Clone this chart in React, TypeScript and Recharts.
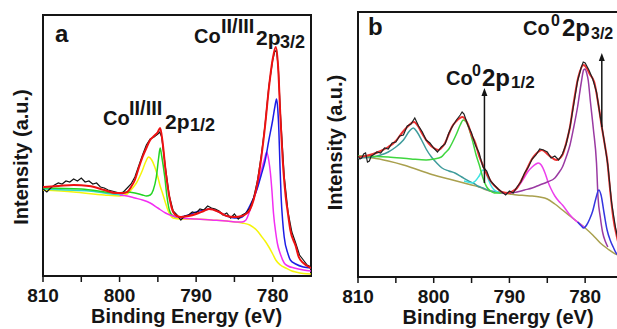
import { ComposedChart, Line, XAxis, YAxis, ReferenceArea, ReferenceLine, Label } from "recharts";

type Pt = [number, number];

// binding energy (eV) vs intensity (a.u.)
const X_TICKS = [775, 780, 785, 790, 795, 800, 805, 810];
const TICK_LABELS = [810, 800, 790, 780];

// ---- panel a : Co(II/III) ----
const RAW_A: Pt[] = [
  [810, 87], [809.5, 84], [809, 88], [808.5, 91], [808, 93], [807.5, 92], [807, 95], [806.5, 94], [806, 97],
  [805.5, 95], [805, 98], [804.5, 94], [804, 95], [803.5, 92], [803, 93], [802.5, 89], [802, 88], [801.5, 86],
  [801, 85], [800.5, 84], [800, 83], [799.5, 84], [799, 88], [798.5, 92], [798, 99], [797.5, 110], [797, 121],
  [796.5, 131], [796, 137], [795.5, 139], [795, 142], [794.75, 144], [794.5, 139], [794, 108], [793.5, 80],
  [793, 65], [792.5, 61], [792, 56], [791.5, 60], [791, 61], [790.5, 64], [790, 63], [789.5, 67], [789, 66],
  [788.5, 70], [788, 68], [787.5, 67], [787, 65], [786.5, 61], [786, 63], [785.5, 58], [785, 62], [784.5, 57],
  [784, 61], [783.5, 63], [783, 68], [782.5, 78], [782, 95], [781.5, 120], [781, 151], [780.5, 190], [780, 216],
  [779.75, 224], [779.5, 226], [779.25, 205], [779, 163], [778.5, 100], [778, 64], [777.5, 44], [777, 33],
  [776.5, 21], [776, 16], [775.5, 11], [775, 9],
];
const ENVELOPE_A: Pt[] = [
  [810, 89], [808, 90], [806, 91], [804, 90], [802, 86], [800.5, 83], [799.5, 83], [799, 84], [798.5, 89],
  [798, 96], [797.5, 108], [797, 119], [796.5, 128], [796, 136], [795.5, 140], [795, 144], [794.7, 148],
  [794.4, 135], [794, 106], [793.5, 79], [793, 64], [792.5, 60], [792, 59], [791, 60], [790, 62], [789, 65],
  [788.3, 67], [787, 64], [786, 60], [785, 59], [784, 60], [783.5, 62], [783, 66], [782.5, 76], [782, 93],
  [781.5, 118], [781, 150], [780.5, 188], [780, 217], [779.6, 229], [779.3, 210], [779, 160], [778.6, 105],
  [778.3, 79], [778, 62], [777.7, 46], [777, 30], [776.6, 19], [776, 13], [775, 8],
];
const YELLOW_A: Pt[] = [
  [810, 86], [806, 84], [802, 81], [800, 80], [799, 82], [798.3, 88], [797.8, 93], [797.4, 99], [797, 106],
  [796.6, 114], [796.2, 119], [795.8, 116], [795.4, 109], [795, 99], [794.7, 90], [794.4, 83], [794, 73],
  [793.7, 66], [793.3, 60], [793, 58], [792, 57], [790, 57], [788, 56], [786, 55], [784, 53], [783, 51],
  [782, 45], [781.5, 40], [781, 35], [780.5, 29], [780, 22], [779.6, 16], [779, 11], [778.3, 8], [777.5, 5],
  [777, 4], [776, 2.5], [775, 2],
];
const GREEN_A: Pt[] = [
  [810, 88], [805, 87], [800, 83], [799, 84], [798, 83], [797, 81], [796.5, 80], [796, 81], [795.6, 86],
  [795.2, 99], [794.9, 118], [794.7, 128], [794.5, 120], [794.1, 99], [793.8, 79], [793.5, 66], [793, 60],
  [792.5, 59],
];
const CYAN_A: Pt[] = [[810, 87], [807, 86], [804, 85], [801, 82], [799.5, 81]];
const MAGENTA_A: Pt[] = [
  [800, 81], [799, 80], [798, 78], [797, 76], [796, 73], [795, 68], [794, 63], [793, 60], [792, 58], [790, 57],
  [788, 56], [786, 55], [784.5, 54], [784, 54], [783.5, 56], [783, 65], [782.5, 77], [782, 89], [781.5, 105],
  [781, 119], [780.8, 124], [780.5, 115], [780.3, 103], [780.1, 85], [779.9, 63], [779.6, 43], [779.4, 33],
  [779, 22], [778.5, 13], [778, 10], [777.2, 8], [776, 6], [775, 5],
];
const BLUE_A: Pt[] = [
  [792, 59], [791, 61], [790, 64], [789, 66], [788, 67], [787, 64], [786, 60], [785, 58], [784.5, 58], [784, 59],
  [783.5, 63], [783, 70], [782.5, 78], [782, 88], [781.5, 101], [781, 115], [780.5, 136], [780, 156],
  [779.7, 170], [779.5, 177], [779.35, 168], [779.2, 146], [779.05, 110], [778.9, 79], [778.7, 55], [778.5, 39],
  [778, 22], [777.7, 16], [777, 12], [776, 9], [775, 8],
];

// ---- panel b : Co(0) ----
const RAW_B: Pt[] = [
  [810, 121], [809.75, 118], [809.5, 119], [809.25, 123], [809, 124], [808.75, 115], [808.5, 116], [808.25, 121],
  [808, 122], [807.5, 125], [807, 124], [806.5, 129], [806, 128], [805.5, 134], [805, 135], [804.5, 141],
  [804, 142], [803.5, 151], [803, 153], [802.5, 159], [802, 151], [801.5, 145], [801, 137], [800.5, 134],
  [800, 129], [799.5, 125], [799, 130], [798.5, 133], [798, 144], [797.5, 151], [797, 157], [796.5, 162],
  [796.25, 165], [796, 163], [795.5, 152], [795, 144], [794.5, 132], [794, 124], [793.5, 110], [793, 106],
  [792.5, 96], [792, 92], [791.5, 88], [791, 85], [790.5, 82], [790, 86], [789.5, 84], [789, 90], [788.5, 95],
  [788, 104], [787.5, 110], [787, 118], [786.5, 122], [786, 128], [785.5, 127], [785, 125], [784.5, 119],
  [784, 121], [783.5, 117], [783, 123], [782.5, 133], [782, 150], [781.5, 173], [781, 196], [780.5, 210],
  [780.25, 215], [780, 214], [779.5, 207], [779, 198], [778.5, 185], [778, 160], [777.5, 137], [777, 112],
  [776.5, 74], [776, 50], [775.5, 32], [775, 23],
];
const ENVELOPE_B: Pt[] = [
  [810, 120], [809, 121], [808, 123], [807, 126], [806, 130], [805, 136], [804.2, 144], [803.5, 150],
  [802.6, 155], [802, 150], [801.5, 143], [800.7, 134], [800, 129], [799.4, 127], [799, 129], [798.5, 134],
  [798, 143], [797.6, 150], [797, 156], [796.2, 160], [795.5, 153], [795, 142], [794.5, 134], [794, 121],
  [793.4, 110], [793, 103], [792.3, 94], [791.5, 88], [791, 85], [790.1, 84], [789.5, 86], [789, 89],
  [788.4, 97], [787.8, 106], [787.1, 117], [786.5, 123], [785.7, 127], [785, 123], [784.5, 120], [783.8, 117],
  [783, 122], [782.4, 137], [782, 150], [781.6, 170], [780.9, 200], [780.2, 212], [779.8, 209], [779.4, 203],
  [778.8, 195], [778.2, 170], [777.8, 150], [777.4, 132], [777.1, 118], [776.7, 87], [776.3, 60], [775.8, 40],
  [775.4, 28], [775, 22],
];
const TEAL_B: Pt[] = [
  [810, 119], [808, 120], [807, 122], [806, 125], [805, 130], [804, 137], [803.2, 146], [802.7, 149],
  [802.2, 145], [801.6, 137], [801, 128], [800.3, 120], [799.6, 114], [798.9, 109], [798, 106], [797.2, 104],
  [796.3, 100], [795.4, 96], [794.8, 94], [794.2, 91], [793.5, 89], [792.5, 86], [791.5, 85], [791, 84],
];
const CYAN_B: Pt[] = [
  [796, 96], [795.5, 95], [795, 94], [794.5, 96], [794, 101], [793.5, 107], [793.2, 106], [792.8, 98],
  [792.4, 91], [792, 87], [791.5, 85], [791, 84],
];
const GREEN_B: Pt[] = [
  [810, 121], [806, 120], [803, 118], [801, 117], [800, 118], [799, 120], [798.5, 124], [798, 128], [797.5, 135],
  [797, 143], [796.5, 152], [796.1, 157], [795.7, 155], [795.2, 145], [794.8, 134], [794.4, 122], [793.9, 110],
  [793.5, 99], [793, 90], [792.5, 86], [792, 84], [791, 84],
];
const OLIVE_B: Pt[] = [
  [810, 120], [808, 119], [806, 116], [804, 112], [802, 107], [800, 102], [798, 98], [797, 96], [796, 94],
  [795, 92], [794, 90], [793, 87], [792, 85], [791, 84], [790, 83], [789, 82], [788, 81.5], [787, 81], [786, 80],
  [785, 78], [784, 73], [783, 67], [782, 61], [781, 55], [780, 49], [779, 42], [778, 34], [777, 28], [776, 23],
  [775, 21],
];
const MAGENTA_B: Pt[] = [
  [791, 84], [790, 84], [789.5, 86], [789, 89], [788.5, 94], [788, 100], [787.5, 106], [787, 110], [786.5, 113],
  [786.2, 114], [785.8, 112], [785.3, 104], [784.9, 95], [784.5, 88], [784, 81], [783.5, 76], [783, 72],
  [782.5, 67], [782, 62], [781.5, 58], [781, 55], [780.5, 52], [780, 49],
];
const PURPLE_B: Pt[] = [
  [791, 84], [790, 84], [789, 85], [788, 87], [787, 89], [786, 92], [785, 95], [784, 99], [783.5, 104],
  [783, 110], [782.5, 120], [782, 132], [781.5, 150], [781, 170], [780.5, 195], [780.2, 207], [780, 208],
  [779.8, 204], [779.6, 197], [779.3, 175], [778.9, 147], [778.5, 114], [778.3, 80], [778, 60], [777.7, 45],
  [777.3, 35], [777, 30],
];
const BLUE_B: Pt[] = [
  [781, 55], [780.5, 51], [780.2, 49], [779.8, 52], [779.4, 58], [779, 66], [778.6, 78], [778.2, 87],
  [777.9, 82], [777.5, 64], [777.1, 47], [776.7, 37], [776.3, 30], [775.8, 23], [775, 21],
];

// arrows in panel b: [energy, from, to]
const ARROWS_B: [number, number, number][] = [
  [793.3, 94, 189],
  [777.8, 150, 224],
];

const FONT = "'Liberation Sans', Arial, Helvetica, sans-serif";
const INK = "#151515";

const toRows = (pts: Pt[]) => pts.map(([e, v]) => ({ e, v }));

const EnergyTick = (props: any) => {
  const { x, y, payload } = props;
  if (!TICK_LABELS.includes(payload.value)) return <g />;
  return (
    <text x={x} y={y + 18} textAnchor="middle" fontFamily={FONT} fontWeight="bold" fontSize={19} fill={INK}>
      {payload.value}
    </text>
  );
};

const Arrow = (p: any) => {
  const { x1, y1, x2, y2 } = p;
  return (
    <g>
      <line x1={x1} y1={y1} x2={x2} y2={y2 + 6} stroke={INK} strokeWidth={1.5} />
      <polygon points={`${x2},${y2} ${x2 - 3},${y2 + 8} ${x2 + 3},${y2 + 8}`} fill={INK} />
    </g>
  );
};

function fitLine(key: string, pts: Pt[], color: string, width = 1.5, type: "monotone" | "linear" = "monotone") {
  return (
    <Line
      key={key}
      data={toRows(pts)}
      dataKey="v"
      type={type}
      stroke={color}
      strokeWidth={width}
      dot={false}
      activeDot={false}
      isAnimationActive={false}
    />
  );
}

function axisTitle(dx: number, dy: number) {
  return (props: any) => {
    const vb = props.viewBox || { x: 0, y: 0, width: 0, height: 0 };
    return (
      <text x={vb.x + vb.width / 2 + dx} y={vb.y + dy} textAnchor="middle" fontFamily={FONT} fontWeight="bold" fontSize={20} fill={INK}>
        Binding Energy (eV)
      </text>
    );
  };
}

function yTitle(bx: number, dy: number) {
  return (props: any) => {
    const vb = props.viewBox || { x: 0, y: 0, width: 0, height: 0 };
    const x = vb.x + bx;
    const y = vb.y + vb.height / 2 + dy;
    return (
      <text x={x} y={y} transform={`rotate(-90, ${x}, ${y})`} textAnchor="middle" fontFamily={FONT} fontWeight="bold" fontSize={20} fill={INK}>
        Intensity (a.u.)
      </text>
    );
  };
}

function PanelA() {
  return (
    <ComposedChart width={320} height={329} margin={{ top: 15, right: 9, bottom: 0, left: 0 }}>
      <XAxis
        dataKey="e"
        type="number"
        domain={[775, 810]}
        reversed
        allowDataOverflow
        ticks={X_TICKS}
        tick={EnergyTick}
        tickSize={6}
        tickLine={{ stroke: INK, strokeWidth: 1.5 }}
        axisLine={false}
        height={53}
      >
        <Label content={axisTitle(9.5, 47)} />
      </XAxis>
      <YAxis type="number" domain={[0, 261]} allowDataOverflow tick={false} tickLine={false} axisLine={false} width={43}>
        <Label content={yTitle(28, 11.5)} />
      </YAxis>
      <ReferenceArea x1={810} x2={775} y1={0} y2={261} fill="none" stroke={INK} strokeWidth={2} />
      {fitLine("yellow", YELLOW_A, "#f5f50a")}
      {fitLine("cyan", CYAN_A, "#2ed6c8")}
      {fitLine("green", GREEN_A, "#22d422")}
      {fitLine("magenta", MAGENTA_A, "#f22ef2")}
      {fitLine("blue", BLUE_A, "#1c1ce6")}
      {fitLine("raw", RAW_A, INK, 1.2, "linear")}
      {fitLine("envelope", ENVELOPE_A, "#ee1111", 2)}
    </ComposedChart>
  );
}

function PanelB() {
  return (
    <ComposedChart width={320} height={329} margin={{ top: 12, right: 7, bottom: 0, left: 0 }}>
      <XAxis
        dataKey="e"
        type="number"
        domain={[775, 810]}
        reversed
        allowDataOverflow
        ticks={X_TICKS}
        tick={EnergyTick}
        tickSize={6}
        tickLine={{ stroke: INK, strokeWidth: 1.5 }}
        axisLine={false}
        height={52}
      >
        <Label content={axisTitle(7.5, 47)} />
      </XAxis>
      <YAxis type="number" domain={[0, 265]} allowDataOverflow tick={false} tickLine={false} axisLine={false} width={48}>
        <Label content={yTitle(32, -2)} />
      </YAxis>
      <ReferenceArea x1={810} x2={775} y1={0} y2={265} fill="none" stroke={INK} strokeWidth={2} />
      {fitLine("olive", OLIVE_B, "#a9a04e")}
      {fitLine("teal", TEAL_B, "#3f9c9c")}
      {fitLine("cyan", CYAN_B, "#3fe3e3")}
      {fitLine("green", GREEN_B, "#3fd63f")}
      {fitLine("magenta", MAGENTA_B, "#ec3fec")}
      {fitLine("purple", PURPLE_B, "#9a3aa2")}
      {fitLine("blue", BLUE_B, "#3535e0")}
      {fitLine("envelope", ENVELOPE_B, "#ee3030", 2)}
      {fitLine("raw", RAW_B, "#222", 1.2, "linear")}
      {ARROWS_B.map(([e, from, to]) => (
        <ReferenceLine key={e} segment={[{ x: e, y: from }, { x: e, y: to }]} shape={Arrow} />
      ))}
    </ComposedChart>
  );
}

const T = { fontFamily: FONT, fontWeight: "bold" as const, fill: INK };

export default function App() {
  return (
    <div style={{ position: "absolute", left: 0, top: 0, width: 617, height: 329, overflow: "hidden", background: "#fff" }}>
      <div style={{ position: "absolute", left: 0, top: 0 }}>
        <PanelA />
      </div>
      <div style={{ position: "absolute", left: 310, top: 0 }}>
        <PanelB />
      </div>
      <svg width={617} height={329} style={{ position: "absolute", left: 0, top: 0, pointerEvents: "none" }}>
        <text x={55} y={42} fontSize={24} {...T}>a</text>
        <text x={368} y={35} fontSize={24} {...T}>b</text>

        <text {...T} fontSize={20}>
          <tspan x={194} y={43}>Co</tspan>
          <tspan x={221} y={33}>II/III</tspan>
          <tspan x={256} y={45} fontSize={21}>2p</tspan>
          <tspan x={280} y={48} fontSize={18}>3/2</tspan>
        </text>
        <text {...T} fontSize={20}>
          <tspan x={103} y={125}>Co</tspan>
          <tspan x={129} y={115}>II/III</tspan>
          <tspan x={165} y={129} fontSize={21}>2p</tspan>
          <tspan x={190} y={131} fontSize={18}>1/2</tspan>
        </text>

        <text {...T} fontSize={20}>
          <tspan x={523} y={35}>Co</tspan>
          <tspan x={551} y={26} fontSize={16}>0</tspan>
          <tspan x={562} y={36} fontSize={24}>2p</tspan>
          <tspan x={591} y={39} fontSize={16}>3/2</tspan>
        </text>
        <text {...T} fontSize={20}>
          <tspan x={446} y={85}>Co</tspan>
          <tspan x={472} y={76} fontSize={16}>0</tspan>
          <tspan x={482} y={86} fontSize={24}>2p</tspan>
          <tspan x={511} y={88} fontSize={17}>1/2</tspan>
        </text>
      </svg>
    </div>
  );
}
